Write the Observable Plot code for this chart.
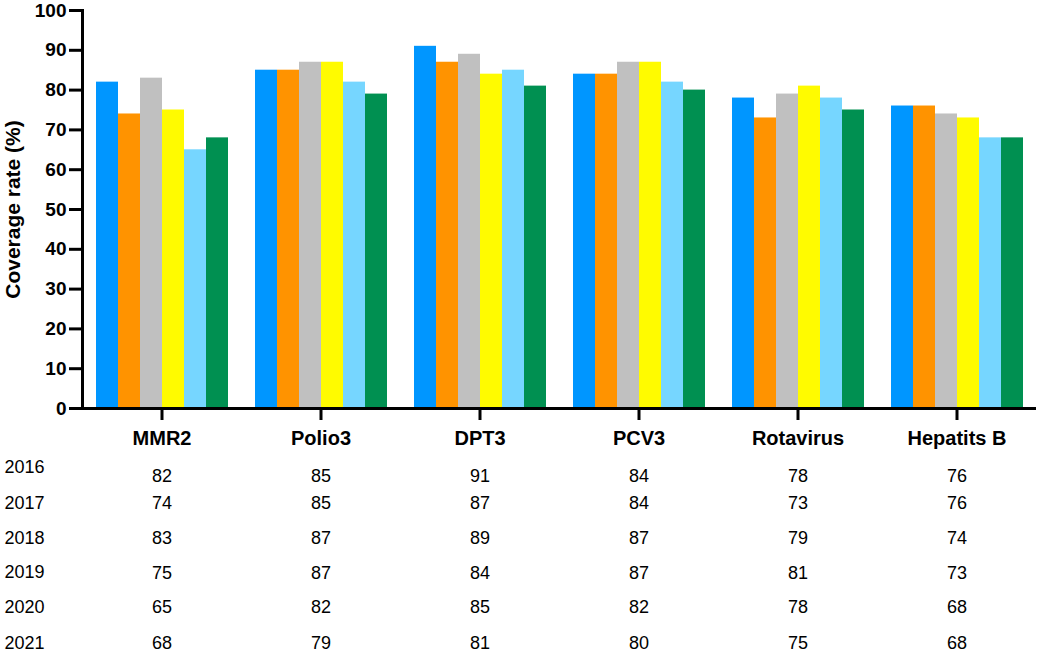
<!DOCTYPE html>
<html><head><meta charset="utf-8">
<script src="https://cdn.jsdelivr.net/npm/d3@7"></script>
<script src="https://cdn.jsdelivr.net/npm/@observablehq/plot@0.6"></script>
<style>
body{margin:0;background:#fff;}
#chart{position:relative;width:1040px;height:651px;}
svg{font-family:"Liberation Sans",Arial,Helvetica,sans-serif;color:#000;}
</style>
</head><body><div id="chart"></div>
<script>
const categories = ["MMR2","Polio3","DPT3","PCV3","Rotavirus","Hepatits B"];
const years = ["2016","2017","2018","2019","2020","2021"];
const mmr2      = [82,74,83,75,65,68];
const polio3    = [85,85,87,87,82,79];
const dpt3      = [91,87,89,84,85,81];
const pcv3      = [84,84,87,87,82,80];
const rotavirus = [78,73,79,81,78,75];
const hepatitsB = [76,76,74,73,68,68];
const yTicks = [0,10,20,30,40,50,60,70,80,90,100];
const yLabel = "Coverage rate (%)";
const colors = ["#0096FF","#FF9300","#C0C0C0","#FFFB00","#76D6FF","#009051"];

const series = [mmr2, polio3, dpt3, pcv3, rotavirus, hepatitsB];
const data = [];
categories.forEach((c, ci) => years.forEach((yr, yi) => data.push({cat: c, year: yr, value: series[ci][yi]})));

// table row layout (pixel offsets below the x axis)
const valueOffsets = [73, 100, 135, 170, 204, 240];
const yearOffsets  = [64, 100, 135, 169, 204, 240];

const tableMarks = years.map((yr, i) =>
  Plot.text(data.filter(d => d.year === yr), {
    fx: "cat", text: d => String(d.value), frameAnchor: "bottom", dy: valueOffsets[i],
    fontSize: 18, fill: "#000"
  })
);
const yearMarks = years.map((yr, i) =>
  Plot.text([yr], {
    text: d => d, frameAnchor: "bottom-left", dx: -78, dy: yearOffsets[i],
    textAnchor: "start", fontSize: 18, fill: "#000", facet: "super"
  })
);

const plot = Plot.plot({
  width: 1040, height: 651,
  marginTop: 10, marginRight: 3, marginBottom: 243, marginLeft: 81,
  style: {fontFamily: '"Liberation Sans",Arial,Helvetica,sans-serif', color: "#000", background: "#fff", overflow: "visible"},
  fx: {domain: categories, padding: 0, label: null},
  x: {domain: years, axis: null, paddingInner: 0, paddingOuter: 0.48},
  y: {domain: [0, 100], axis: null},
  color: {domain: years, range: colors},
  marks: [
    Plot.barY(data, {fx: "cat", x: "year", y: "value", fill: "year"}),
    Plot.ruleY([0], {stroke: "#000", strokeWidth: 3}),
    Plot.frame({anchor: "left", facet: "super", stroke: "#000", strokeWidth: 3}),
    Plot.axisY({ticks: yTicks, tickSize: 13, tickPadding: 3, strokeWidth: 3, fontSize: 19, fontWeight: "bold", label: null}),
    Plot.axisY({ticks: [], tickSize: 0, fontSize: 21, fontWeight: "bold",
      label: yLabel, labelAnchor: "center", labelArrow: "none", labelOffset: 77}),
    Plot.axisFx({anchor: "bottom", tickSize: 12, tickPadding: 10, strokeWidth: 3, fontSize: 20, fontWeight: "bold", label: null}),
    ...tableMarks,
    ...yearMarks
  ]
});
document.getElementById("chart").appendChild(plot);
</script>
</body></html>
